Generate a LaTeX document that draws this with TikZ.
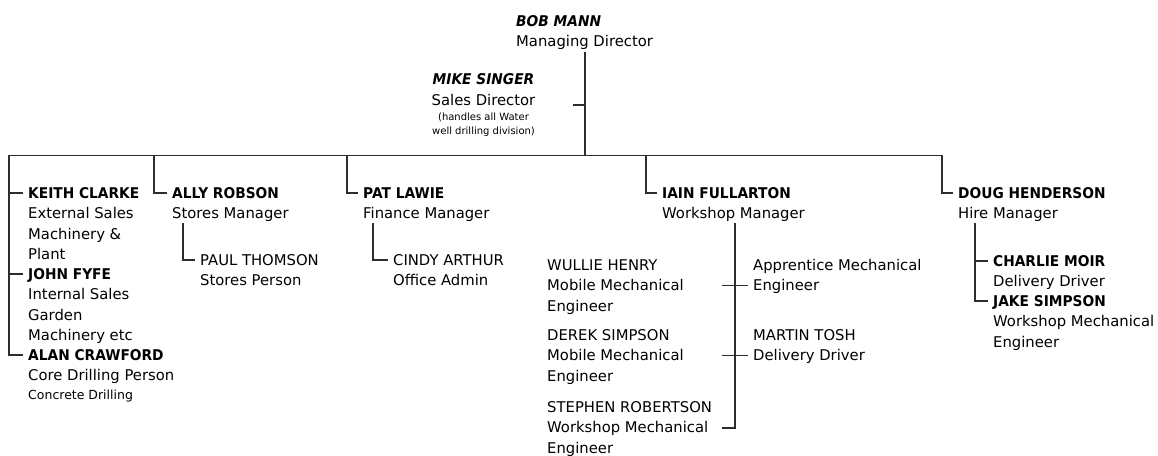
\documentclass[tikz,border=0pt]{standalone}
\usepackage{fontspec}
\setmainfont{DejaVu Sans}
\newfontfamily\namefont[FakeStretch=0.93]{DejaVu Sans}
\usetikzlibrary{positioning}
\definecolor{ink}{RGB}{45,45,45}
\newcommand\orgfont{\fontsize{14.8pt}{20.3pt}\selectfont}
\newcommand\notefont{\fontsize{10pt}{14pt}\selectfont}

\begin{document}
\begin{tikzpicture}[x=1pt,y=-1pt,font=\orgfont]
\tikzset{who/.style={anchor=base west,inner xsep=5pt,inner ysep=0pt,text depth=0pt,font={\orgfont\namefont\bfseries}},
  staff/.style={who,font=\orgfont},boss/.style={who,font={\orgfont\namefont\bfseries\itshape}},
  job/.style={anchor=north west,inner xsep=5pt,inner ysep=0pt,text depth=0pt,align=left,yshift=-9pt,font=\orgfont},
  ln/.style={draw=ink,line width=1.2pt}}
\useasboundingbox (0,0) rectangle (1158,455);
\node[boss] (bob) at (511,26.4) {BOB MANN};
\node[job] (bobj) at (bob.base west) {Managing Director};
\node[align=center,anchor=north,inner sep=0pt] (mike) at (483.5,73.6) {{\namefont\bfseries\itshape MIKE SINGER}\\Sales Director\\[-5pt]{\notefont (handles all Water}\\[-6.3pt]{\notefont well drilling division)}};
\node[who] (keith) at (23,198.4) {KEITH CLARKE};
\node[job] (keithj) at (keith.base west) {External Sales\\Machinery \&\\Plant};
\node[who] (john) at (23,279.4) {JOHN FYFE};
\node[job] (johnj) at (john.base west) {Internal Sales\\Garden\\Machinery etc};
\node[who] (alan) at (23,360.4) {ALAN CRAWFORD};
\node[job] (alanj) at (alan.base west) {Core Drilling Person\\[-1.5pt]{\fontsize{12.5pt}{15pt}\selectfont Concrete Drilling}};
\node[who] (ally) at (167,198.4) {ALLY ROBSON};
\node[job] (allyj) at (ally.base west) {Stores Manager};
\node[staff] (paul) at (195,265.4) {PAUL THOMSON};
\node[job] (paulj) at (paul.base west) {Stores Person};
\node[who] (pat) at (358,198.4) {PAT LAWIE};
\node[job] (patj) at (pat.base west) {Finance Manager};
\node[staff] (cindy) at (388,265.4) {CINDY ARTHUR};
\node[job] (cindyj) at (cindy.base west) {Office Admin};
\node[who] (iain) at (657,198.4) {IAIN FULLARTON};
\node[job] (iainj) at (iain.base west) {Workshop Manager};
\node[staff] (wullie) at (542,270.4) {WULLIE HENRY};
\node[job] (wulliej) at (wullie.base west) {Mobile Mechanical\\Engineer};
\node[staff] (derek) at (542,340.4) {DEREK SIMPSON};
\node[job] (derekj) at (derek.base west) {Mobile Mechanical\\Engineer};
\node[staff] (stephen) at (542,412.4) {STEPHEN ROBERTSON};
\node[job] (stephenj) at (stephen.base west) {Workshop Mechanical\\Engineer};
\node[staff] (appr) at (748,270.4) {Apprentice Mechanical};
\node[job] (apprj) at (appr.base west) {Engineer};
\node[staff] (martin) at (748,340.4) {MARTIN TOSH};
\node[job] (martinj) at (martin.base west) {Delivery Driver};
\node[who] (doug) at (953,198.4) {DOUG HENDERSON};
\node[job] (dougj) at (doug.base west) {Hire Manager};
\node[who] (charlie) at (988,266.4) {CHARLIE MOIR};
\node[job] (charliej) at (charlie.base west) {Delivery Driver};
\node[who] (jake) at (988,306.4) {JAKE SIMPSON};
\node[job] (jakej) at (jake.base west) {Workshop Mechanical\\Engineer};
\coordinate (top) at (585,52);\coordinate (hub) at (585,155.5);\coordinate (sd) at (573,105);
\coordinate (l1) at (9,155.5);\coordinate (l2) at (154,155.5);\coordinate (l3) at (347,155.5);\coordinate (l4) at (646,155.5);\coordinate (l5) at (942,155.5);
\coordinate (s1) at (183,223);\coordinate (s2) at (373,223);\coordinate (s3) at (975,223);\coordinate (s4) at (735,223);\coordinate (wsl) at (722,428);
\draw[ln] (top)--(hub);\draw[ln] (sd)--(sd -| top);
\draw[ln] (alan.west) -| (l1) -- (l5) |- (doug.west);
\draw[ln] (keith.west)--(keith.west -| l1);\draw[ln] (john.west)--(john.west -| l1);
\draw[ln] (l2) |- (ally.west);\draw[ln] (l3) |- (pat.west);\draw[ln] (l4) |- (iain.west);
\draw[ln] (s1) |- (paul.west);\draw[ln] (s2) |- (cindy.west);
\draw[ln] (s3) |- (jake.west);\draw[ln] (charlie.west)--(charlie.west -| s3);
\draw[ln] (s4) |- (wsl);\draw[ln] (apprj.west)--(apprj.west -| wsl);\draw[ln] (martinj.west)--(martinj.west -| wsl);
\end{tikzpicture}
\end{document}
